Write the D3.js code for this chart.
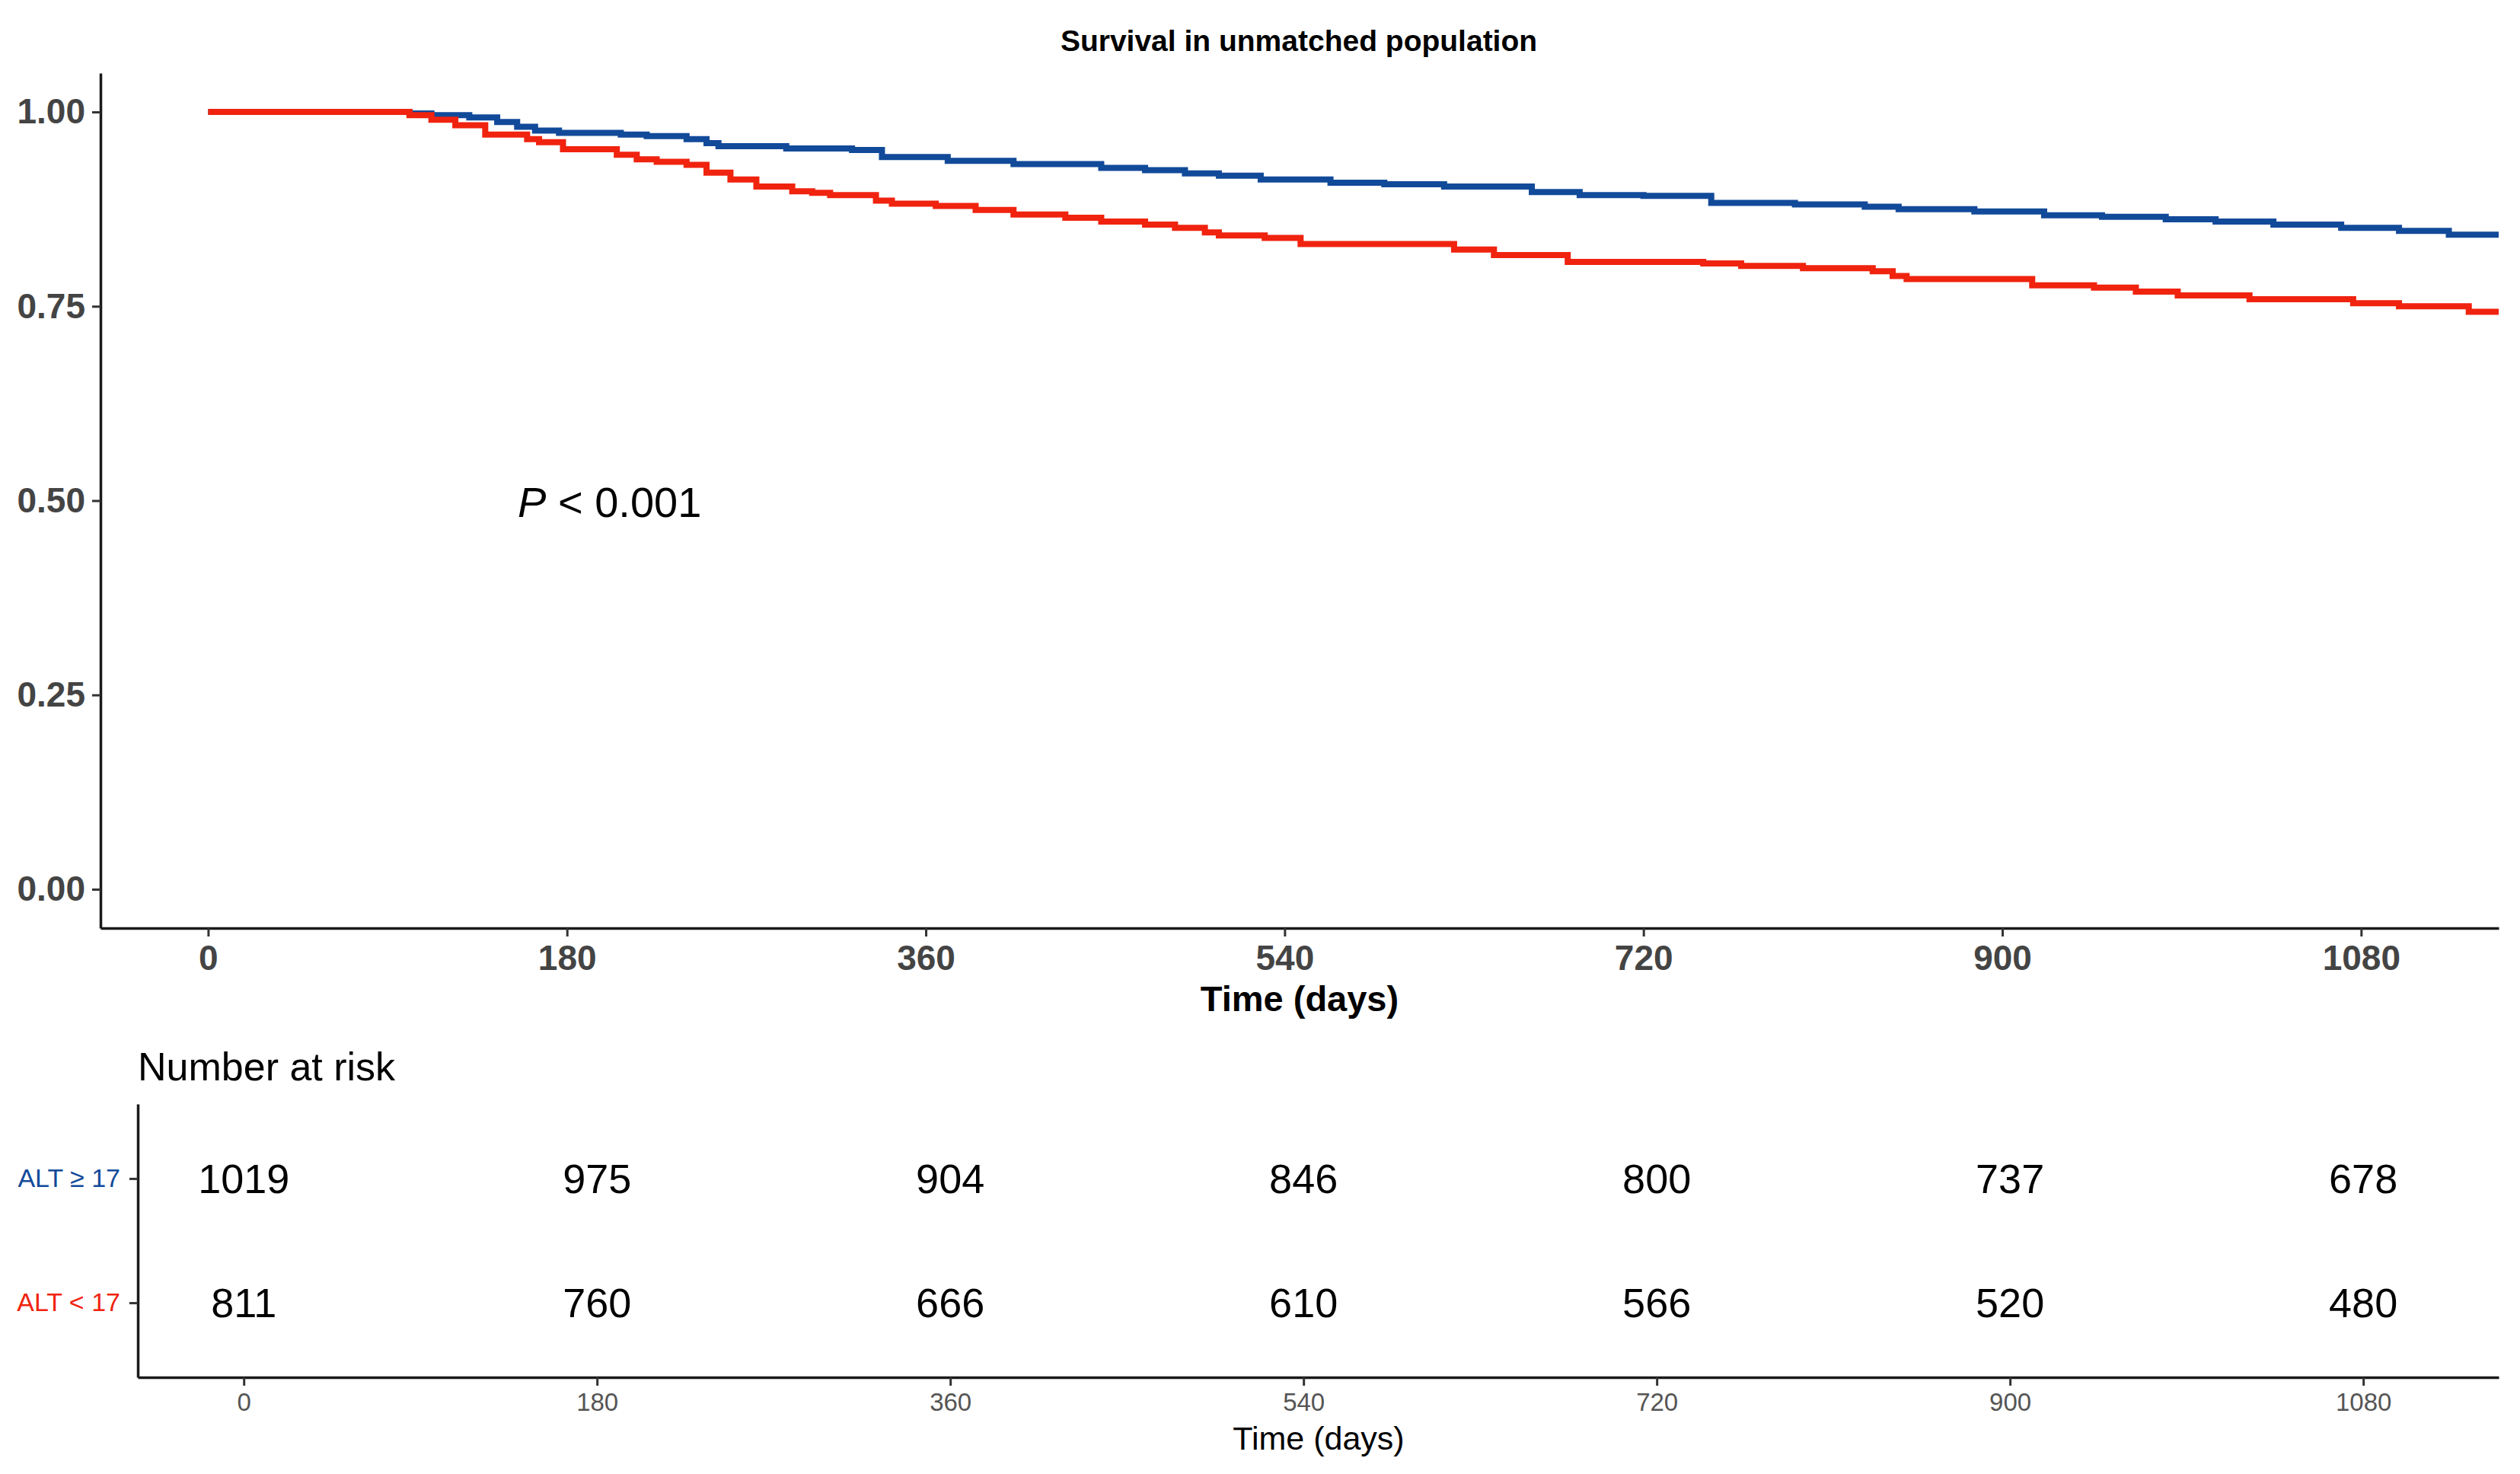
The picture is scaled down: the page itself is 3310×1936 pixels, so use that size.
<!DOCTYPE html>
<html>
<head>
<meta charset="utf-8">
<title>Survival in unmatched population</title>
<script src="https://cdn.jsdelivr.net/npm/d3@7"></script>
<style>
    body { margin: 0; background: #fff; }
    svg { display: block; font-family: "Liberation Sans", Arial, sans-serif; }
</style>
</head>
<body>
<div id="chart"></div>
<script>
var groups = ["ALT ≥ 17", "ALT < 17"];
var colors = ["#124a9a", "#f0230f"];

var timeTicks = [0, 180, 360, 540, 720, 900, 1080];
var survTicks = [0, 0.25, 0.5, 0.75, 1];

// ALT >= 17 (step starts)
var highTimes = [0, 101, 112, 131, 145, 155, 164, 176, 207, 220, 240, 250, 256, 290, 323, 338, 371, 404, 448, 470, 490,
    507, 528, 563, 590, 620, 664, 688, 720, 754, 796, 831, 848, 886, 921, 950, 982, 1007, 1036, 1070, 1099, 1124, 1149];
var highSurv = [1, 0.998, 0.996, 0.993, 0.987, 0.981, 0.976, 0.973, 0.971, 0.969, 0.965, 0.96, 0.956, 0.953, 0.951, 0.942,
    0.937, 0.933, 0.928, 0.925, 0.921, 0.918, 0.913, 0.909, 0.907, 0.904, 0.897, 0.893, 0.892, 0.883, 0.881, 0.878, 0.875,
    0.872, 0.867, 0.865, 0.862, 0.859, 0.855, 0.851, 0.847, 0.842, 0.842];

// ALT < 17
var lowTimes = [0, 101, 112, 124, 139, 160, 166, 178, 205, 215, 225, 240, 250, 262, 275, 293, 303, 312, 335, 343, 365, 385,
    404, 430, 448, 470, 485, 500, 507, 530, 548, 625, 645, 682, 750, 769, 800, 835, 845, 852, 915, 946, 967, 988, 1024,
    1076, 1099, 1134, 1149];
var lowSurv = [1, 0.996, 0.99, 0.983, 0.971, 0.965, 0.961, 0.952, 0.945, 0.939, 0.936, 0.932, 0.922, 0.913, 0.904, 0.898,
    0.896, 0.893, 0.886, 0.882, 0.879, 0.874, 0.868, 0.864, 0.859, 0.855, 0.851, 0.845, 0.841, 0.838, 0.83, 0.823, 0.816,
    0.807, 0.805, 0.802, 0.799, 0.795, 0.789, 0.785, 0.777, 0.774, 0.769, 0.764, 0.759, 0.754, 0.75, 0.743, 0.743];

// number at risk at each time tick
var highRisk = [1019, 975, 904, 846, 800, 737, 678];
var lowRisk = [811, 760, 666, 610, 566, 520, 480];

var width = 3310,
    height = 1936;

var svg = d3.select("#chart")
    .append("svg")
    .attr("width", width)
    .attr("height", height);

// ---- survival plot ----
var x = d3.scaleLinear()
    .domain([-54, 1149])
    .range([132, 3282]);

var y = d3.scaleLinear()
    .domain([-0.05, 1.05])
    .range([1219, 96]);

function styleAxis(g, fontSize, bold, color) {
    g.select(".domain")
        .attr("stroke", "#1a1a1a")
        .attr("stroke-width", 3.5);
    g.selectAll(".tick line")
        .attr("stroke", "#333")
        .attr("stroke-width", 3);
    g.selectAll(".tick text")
        .attr("fill", color)
        .style("font-size", fontSize + "px")
        .style("font-weight", bold ? "bold" : "normal");
}

svg.append("g")
    .attr("transform", "translate(0,1219)")
    .call(d3.axisBottom(x).tickValues(timeTicks).tickFormat(d3.format("d"))
        .tickSize(11).tickSizeOuter(0).tickPadding(11))
    .call(styleAxis, 46, true, "#444");

svg.append("g")
    .attr("transform", "translate(132,0)")
    .call(d3.axisLeft(y).tickValues(survTicks).tickFormat(d3.format(".2f"))
        .tickSize(11).tickSizeOuter(0).tickPadding(9))
    .call(styleAxis, 46, true, "#444");

var line = d3.line()
    .curve(d3.curveStepAfter)
    .x(function (d) { return x(d.t); })
    .y(function (d) { return y(d.s); });

var curves = [
    highTimes.map(function (t, i) { return {t: t, s: highSurv[i]}; }),
    lowTimes.map(function (t, i) { return {t: t, s: lowSurv[i]}; })
];

svg.selectAll(".curve")
    .data(curves)
    .enter().append("path")
    .attr("class", "curve")
    .attr("d", line)
    .attr("fill", "none")
    .attr("stroke", function (d, i) { return colors[i]; })
    .attr("stroke-width", 8);

svg.append("text")
    .attr("x", 1706)
    .attr("y", 67)
    .attr("text-anchor", "middle")
    .style("font-size", "39px")
    .style("font-weight", "bold")
    .text("Survival in unmatched population");

svg.append("text")
    .attr("x", 1707)
    .attr("y", 1328)
    .attr("text-anchor", "middle")
    .style("font-size", "47px")
    .style("font-weight", "bold")
    .text("Time (days)");

var pval = svg.append("text")
    .attr("x", 680)
    .attr("y", 679)
    .style("font-size", "56px");
pval.append("tspan").style("font-style", "italic").text("P");
pval.append("tspan").text(" < 0.001");

// ---- risk table ----
var xt = d3.scaleLinear()
    .domain([-54, 1149])
    .range([181, 3282]);

var yt = d3.scalePoint()
    .domain(groups)
    .range([1450, 1809])
    .padding(0.6);

svg.append("text")
    .attr("x", 181)
    .attr("y", 1419)
    .style("font-size", "52px")
    .text("Number at risk");

svg.append("g")
    .attr("transform", "translate(0,1809)")
    .call(d3.axisBottom(xt).tickValues(timeTicks).tickFormat(d3.format("d"))
        .tickSize(11).tickSizeOuter(0).tickPadding(10))
    .call(styleAxis, 33, false, "#555");

var rowAxis = svg.append("g")
    .attr("transform", "translate(181,0)")
    .call(d3.axisLeft(yt).tickSize(11).tickSizeOuter(0).tickPadding(12))
    .call(styleAxis, 34, false, "#333");
rowAxis.selectAll(".tick text")
    .attr("fill", function (d, i) { return colors[i]; });

var riskRows = [highRisk, lowRisk];

riskRows.forEach(function (row, r) {
    svg.selectAll(".risk" + r)
        .data(row)
        .enter().append("text")
        .attr("class", "risk" + r)
        .attr("x", function (d, i) { return xt(timeTicks[i]); })
        .attr("y", yt(groups[r]))
        .attr("dy", "0.35em")
        .attr("text-anchor", "middle")
        .style("font-size", "54px")
        .text(function (d) { return d; });
});

svg.append("text")
    .attr("x", 1732)
    .attr("y", 1904)
    .attr("text-anchor", "middle")
    .style("font-size", "43px")
    .text("Time (days)");
</script>
</body>
</html>
